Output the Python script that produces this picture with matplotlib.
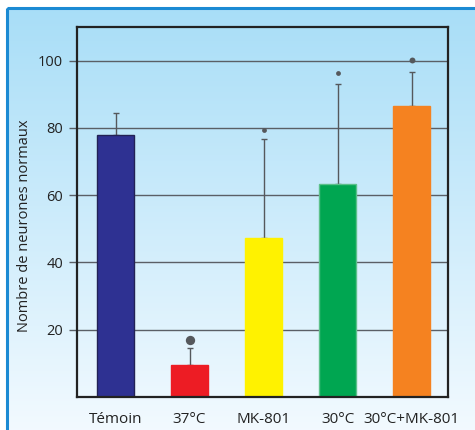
"""Bar chart: Nombre de neurones normaux."""

import matplotlib
import numpy as np

matplotlib.use("Agg")
import matplotlib.pyplot as plt
from matplotlib.patches import Rectangle

categories = ["Témoin", "37°C", "MK-801", "30°C", "30°C+MK-801"]
values = [78.0, 9.4, 47.4, 63.2, 86.4]
err_up = [6.4, 5.3, 29.4, 30.0, 10.3]
dot_values = [None, 17.0, 79.4, 96.2, 100.3]
dot_sizes = [0, 45, 12, 12, 18]
colors = ["#2e3192", "#ed1c24", "#fff200", "#00a651", "#f58220"]
edges = ["#222255", "#ed1c24", "#fff200", "#5cc08a", "#f58220"]
yticks = [20, 40, 60, 80, 100]

plt.rcParams["font.family"] = ["Open Sans", "DejaVu Sans"]

fig = plt.figure(figsize=(4.75, 4.3), dpi=100)

# gradient background with blue frame
bg = fig.add_axes([0, 0, 1, 1], zorder=-10)
bg.set_xlim(0, 475)
bg.set_ylim(430, 0)
bg.axis("off")
top = np.array([0.66, 0.87, 0.97])
bot = np.array([0.95, 0.98, 1.0])
t = np.linspace(0, 1, 256)[:, None, None]
grad = top * (1 - t) + bot * t
bg.imshow(grad, extent=[7, 475, 430, 8], aspect="auto", zorder=0)
bg.add_patch(Rectangle((7, 8), 480, 440, fill=False, edgecolor="#1b8ad3", lw=2.2, zorder=1))
bg.text(25, 226, "Nombre de neurones normaux", rotation=90, ha="center", va="center",
        fontsize=10.5, color="#222222")

ax = fig.add_axes([77 / 475, 1 - 397 / 430, 371 / 475, 370 / 430])
ax.patch.set_alpha(0)
x = np.arange(len(categories))
ax.set_xlim(-0.52, 4.49)
ax.set_ylim(0, 110)

for yv in yticks:
    ax.axhline(yv, color="#5a5f66", lw=1.0, zorder=1)

ax.bar(x, values, width=0.5, color=colors, edgecolor=edges, linewidth=1.0, zorder=2)
ax.errorbar(x, values, yerr=[np.zeros(len(values)), err_up], fmt="none",
            ecolor="#55585c", elinewidth=1.0, capsize=2.2, capthick=1.0, zorder=1.5)
for xi, dv, s in zip(x, dot_values, dot_sizes):
    if dv is not None:
        ax.scatter([xi], [dv], s=s, color="#55585c", zorder=3, linewidths=0)

ax.set_yticks(yticks)
ax.set_xticks(x)
ax.set_xticklabels(categories)
ax.tick_params(axis="y", length=6, width=1.0, color="#5a5f66", labelsize=10.5, pad=4,
               labelcolor="#222222")
ax.tick_params(axis="x", length=0, labelsize=11, pad=11, labelcolor="#222222")
for sp in ax.spines.values():
    sp.set_linewidth(1.6)
    sp.set_color("#222222")

plt.savefig("out.png", dpi=100)
plt.close()
